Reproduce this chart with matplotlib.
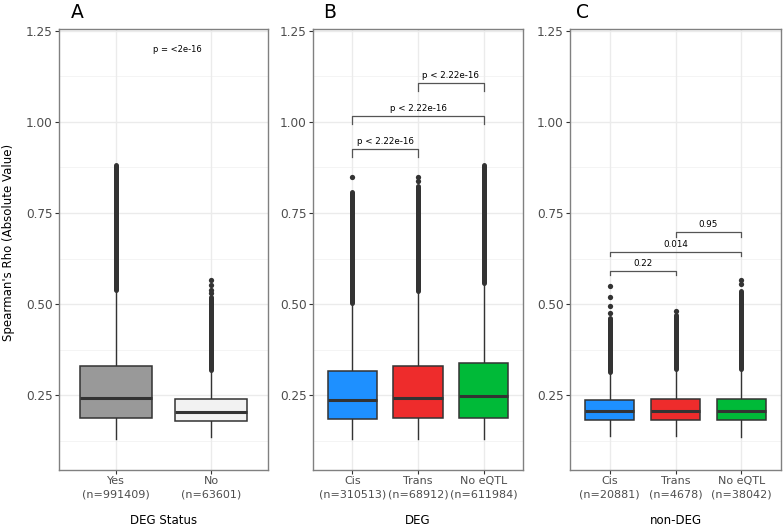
import matplotlib.pyplot as plt

plt.rcParams['font.family'] = ['DejaVu Sans']

# ---- panel A : DEG status ----
a_labels = ["Yes\n(n=991409)", "No\n(n=63601)"]
a_q1 = [0.189, 0.180]
a_med = [0.243, 0.205]
a_q3 = [0.331, 0.241]
a_low = [0.131, 0.136]
a_high = [0.540, 0.320]
a_out_top = [0.881, 0.521]          # top of the dense column of outliers
a_out_extra = [[], [0.531, 0.540, 0.553, 0.566]]
a_colors = ["#999999", "#F2F2F2"]

# ---- panel B : DEG ----
b_labels = ["Cis\n(n=310513)", "Trans\n(n=68912)", "No eQTL\n(n=611984)"]
b_q1 = [0.186, 0.189, 0.189]
b_med = [0.237, 0.243, 0.247]
b_q3 = [0.316, 0.329, 0.339]
b_low = [0.131, 0.131, 0.131]
b_high = [0.504, 0.537, 0.558]
b_out_top = [0.807, 0.825, 0.882]
b_out_extra = [[0.848], [0.838, 0.848], []]

# ---- panel C : non-DEG ----
c_labels = ["Cis\n(n=20881)", "Trans\n(n=4678)", "No eQTL\n(n=38042)"]
c_q1 = [0.182, 0.182, 0.182]
c_med = [0.207, 0.207, 0.207]
c_q3 = [0.237, 0.241, 0.241]
c_low = [0.139, 0.137, 0.136]
c_high = [0.314, 0.323, 0.323]
c_out_top = [0.462, 0.471, 0.535]
c_out_extra = [[0.476, 0.496, 0.521, 0.550], [0.481], [0.555, 0.566]]

eqtl_colors = ["#1E90FF", "#EE2C2C", "#00BA38"]

# comparisons: (group1, group2, bracket height, label)
b_pairs = [(2, 3, 1.108, "p < 2.22e-16"), (1, 3, 1.017, "p < 2.22e-16"), (1, 2, 0.926, "p < 2.22e-16")]
c_pairs = [(2, 3, 0.697, "0.95"), (1, 3, 0.643, "0.014"), (1, 2, 0.591, "0.22")]

yticks = [0.25, 0.50, 0.75, 1.00, 1.25]
yminor = [0.125, 0.375, 0.625, 0.875, 1.125]
DARK = "#333333"


def draw_panel(ax, labels, q1, med, q3, low, high, out_top, out_extra, colors):
    pos = list(range(1, len(labels) + 1))
    stats = []
    for i in range(len(labels)):
        stats.append(dict(q1=q1[i], med=med[i], q3=q3[i],
                          whislo=low[i], whishi=high[i], fliers=[]))
    ax.set_axisbelow(True)
    for y in yminor:
        ax.axhline(y, color="#F2F2F2", lw=0.6, zorder=0)
    for y in yticks:
        ax.axhline(y, color="#EBEBEB", lw=1.0, zorder=0)
    for x in pos:
        ax.axvline(x, color="#EBEBEB", lw=1.0, zorder=0)

    # outliers (very dense, they merge into a column)
    ax.vlines(pos, high, out_top, colors=DARK, lw=3.6, capstyle="round", zorder=2)
    for x, pts in zip(pos, out_extra):
        ax.plot([x] * len(pts), pts, "o", color=DARK, ms=3.8, mew=0, zorder=2)

    bp = ax.bxp(stats, positions=pos, widths=0.75, patch_artist=True,
                showcaps=False, showfliers=False,
                boxprops=dict(edgecolor=DARK, linewidth=1.1),
                medianprops=dict(color=DARK, linewidth=2.2),
                whiskerprops=dict(color=DARK, linewidth=1.0))
    for patch, c in zip(bp["boxes"], colors):
        patch.set_facecolor(c)
        patch.set_zorder(3)
    for m in bp["medians"]:
        m.set_zorder(4)

    ax.set_xlim(0.4, len(labels) + 0.6)
    ax.set_ylim(0.045, 1.255)
    ax.set_yticks(yticks, ["%.2f" % v for v in yticks])
    ax.set_xticks(pos, labels)
    for t in ax.get_xticklabels():
        t.set_linespacing(1.45)
    ax.tick_params(length=3, color=DARK, width=0.8, labelcolor="#4D4D4D", pad=1.5)
    ax.tick_params(axis="x", labelsize=8)
    ax.tick_params(axis="y", labelsize=8.7)
    for s in ax.spines.values():
        s.set_color("#808080")
        s.set_linewidth(1.0)


def draw_brackets(ax, pairs, tip):
    for g1, g2, y, text in pairs:
        ax.plot([g1, g1, g2, g2], [y - tip, y, y, y - tip], color="#555555", lw=0.9, zorder=2)
        ax.text((g1 + g2) / 2, y + 0.008, text, ha="center", va="bottom", fontsize=6.3)


fig = plt.figure(figsize=(7.84, 5.27), dpi=100)
bottom, height = 57 / 527, 441 / 527
ax_a = fig.add_axes([59 / 784, bottom, 209 / 784, height])
ax_b = fig.add_axes([313 / 784, bottom, 210 / 784, height])
ax_c = fig.add_axes([570 / 784, bottom, 211 / 784, height])

draw_panel(ax_a, a_labels, a_q1, a_med, a_q3, a_low, a_high, a_out_top, a_out_extra, a_colors)
draw_panel(ax_b, b_labels, b_q1, b_med, b_q3, b_low, b_high, b_out_top, b_out_extra, eqtl_colors)
draw_panel(ax_c, c_labels, c_q1, c_med, c_q3, c_low, c_high, c_out_top, c_out_extra, eqtl_colors)

ax_a.text(1.65, 1.200, "p = <2e-16", ha="center", va="center", fontsize=6)
draw_brackets(ax_b, b_pairs, 0.022)
draw_brackets(ax_c, c_pairs, 0.012)

for ax, name in [(ax_a, "DEG Status"), (ax_b, "DEG"), (ax_c, "non-DEG")]:
    ax.text(0.5, -0.1134, name, transform=ax.transAxes, ha="center", va="center", fontsize=8.5)

fig.text(71 / 784, 1 - 13 / 527, "A", fontsize=13.5, va="center", ha="left")
fig.text(323 / 784, 1 - 13 / 527, "B", fontsize=13.5, va="center", ha="left")
fig.text(576 / 784, 1 - 13 / 527, "C", fontsize=13.5, va="center", ha="left")
fig.text(8.5 / 784, 1 - 242 / 527, "Spearman's Rho (Absolute Value)", rotation=90,
         ha="center", va="center", fontsize=8.5)

fig.savefig("out.png", dpi=100)
